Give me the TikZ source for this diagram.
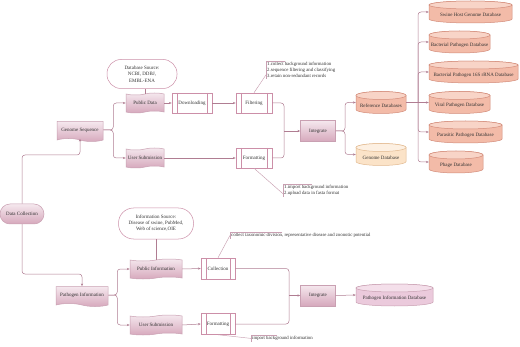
\documentclass[tikz,border=0pt]{standalone}
\usepackage{fontspec}
\setmainfont{Liberation Serif}
\usetikzlibrary{shapes.symbols,arrows.meta,calc}
\definecolor{lineC}{HTML}{B07D92}
\definecolor{borderC}{HTML}{C9A0B2}
\definecolor{procC}{HTML}{CC8FA8}
\definecolor{pinkTop}{HTML}{F5E8EE}
\definecolor{pinkBot}{HTML}{D6A8BC}
\definecolor{txtC}{HTML}{333333}
\definecolor{salBody}{HTML}{F3BBA8}
\definecolor{salTop}{HTML}{F8D4C7}
\definecolor{salEdge}{HTML}{D38C7A}
\definecolor{peBody}{HTML}{FBE3C8}
\definecolor{peTop}{HTML}{FDF0E2}
\definecolor{peEdge}{HTML}{E2B98F}
\definecolor{piBody}{HTML}{EBCADC}
\definecolor{piTop}{HTML}{F4DFEA}
\newcommand{\dbcyl}[8]{%
  \filldraw[draw=#7, fill=#5, line width=0.5pt] (#2-#4,#3+7) -- (#2-#4,#3-7) arc[start angle=180,end angle=360,x radius=#4,y radius=4] -- (#2+#4,#3+7) arc[start angle=0,end angle=180,x radius=#4,y radius=4] -- cycle;
  \filldraw[draw=#7, fill=#6, line width=0.5pt] (#2,#3+7) ellipse[x radius=#4, y radius=4];
  \node[cylnode, minimum width=2*#4] (#1) at (#2,#3) {};
  \node[txt] (#1-t) at (#2,#3-3) {#8};
}
\begin{document}
\begin{tikzpicture}[x=1pt,y=1pt,
  font=\fontsize{5}{6}\selectfont,
  txt/.style={inner sep=0, text=txtC},
  conn/.style={draw=lineC, line width=0.5pt, rounded corners=3pt},
  arr/.style={conn, -{Stealth[length=2.8pt,width=2.2pt]}},
  notel/.style={draw=borderC, line width=0.45pt},
  notetxt/.style={inner sep=1pt, text=txtC, align=left, anchor=north west, font=\fontsize{4.8}{6}\selectfont},
  docnode/.style={tape, tape bend top=none, tape bend bottom=out and in, tape bend height=3pt, draw=borderC, line width=0.5pt, top color=pinkTop, bottom color=pinkBot, inner sep=0, text=txtC},
  datanode/.style={tape, tape bend top=in and out, tape bend bottom=in and out, tape bend height=2pt, draw=borderC, line width=0.5pt, top color=pinkTop, bottom color=pinkBot, inner sep=0, text=txtC},
  procnode/.style={rectangle, draw=procC, line width=0.5pt, fill=white, inner sep=0, text=txtC,
    path picture={\draw[procC, line width=0.5pt] ([xshift=5pt]path picture bounding box.north west) -- ([xshift=5pt]path picture bounding box.south west);
                  \draw[procC, line width=0.5pt] ([xshift=-5pt]path picture bounding box.north east) -- ([xshift=-5pt]path picture bounding box.south east);}},
  stadium/.style={rectangle, draw=procC, line width=0.5pt, fill=white, align=center, inner sep=0, text=txtC},
  intnode/.style={rectangle, draw=borderC, line width=0.5pt, top color=pinkTop, bottom color=pinkBot, inner sep=0, text=txtC},
  cylnode/.style={rectangle, inner sep=0, minimum height=22pt, draw=none}
]
\useasboundingbox (0,0) rectangle (520,346);
\fill[white] (0,0) rectangle (520,346);

% ---------- nodes: upper part ----------
\node[stadium, rounded corners=10pt, top color=pinkTop, bottom color=pinkBot, draw=borderC, minimum width=44pt, minimum height=20pt] (dc) at (22,132) {Data Collection};
\node[docnode, minimum width=46pt, minimum height=20pt] (gs) at (80,216) {Genome Sequence};
\node[stadium, rounded corners=14pt, minimum width=70pt, minimum height=29pt, font=\fontsize{5}{6.3}\selectfont] (dbs) at (142,272) {Database Source:\\NCBI, DDBJ,\\EMBL-ENA};
\node[datanode, minimum width=38pt, minimum height=20pt] (pd) at (145,243) {Public Data};
\node[datanode, minimum width=38pt, minimum height=20pt] (us) at (145,188) {User Submission};
\node[procnode, minimum width=40pt, minimum height=20pt] (dl) at (192,243) {Downloading};
\node[procnode, minimum width=36pt, minimum height=20pt] (fi) at (254,243) {Filtering};
\node[procnode, minimum width=36pt, minimum height=20pt] (fo) at (254,188) {Formatting};
\node[intnode, minimum width=35pt, minimum height=21pt] (integ) at (318,215) {Integrate};

\dbcyl{rdb}{381}{243.5}{25}{salBody}{salTop}{salEdge}{Reference Databases}
\dbcyl{gdb}{381}{191.5}{25}{peBody}{peTop}{peEdge}{Genome Database}
\dbcyl{sw}{470.5}{334}{41.5}{salBody}{salTop}{salEdge}{Swine Host Genome Database}
\dbcyl{bp}{459.5}{304}{30.5}{salBody}{salTop}{salEdge}{Bacterial Pathogen Database}
\dbcyl{bs}{473.5}{274}{44.5}{salBody}{salTop}{salEdge}{Bacterial Pathogen 16S rRNA Database}
\dbcyl{vp}{459.5}{243.5}{30.5}{salBody}{salTop}{salEdge}{Viral Pathogen Database}
\dbcyl{pp}{465.5}{214}{36.5}{salBody}{salTop}{salEdge}{Parasitic Pathogen Database}
\dbcyl{ph}{456}{184}{27}{salBody}{salTop}{salEdge}{Phage Database}

% notes upper
\node[notetxt] (n1) at (266,285) {1.collect background information\\2.sequence filtering and classifying\\3.retain non-redundant records};
\draw[notel] ([xshift=19pt]n1.north west) -- (n1.north west) -- (n1.south west);
\node[notetxt] (n2) at (283,162) {1.import background information\\2.upload data in fasta format};
\draw[notel] ([xshift=29pt]n2.north west) -- (n2.north west) -- (n2.south west);

% ---------- nodes: lower part ----------
\node[docnode, minimum width=52pt, minimum height=20pt] (pi) at (82,51) {Pathogen Information};
\node[stadium, rounded corners=15pt, minimum width=75pt, minimum height=31pt] (ins) at (156,122.5) {Information Source:\\Disease of swine, PubMed,\\Web of science,OIE};
\node[datanode, minimum width=52pt, minimum height=20pt] (pinf) at (156,77) {Public Information};
\node[datanode, minimum width=52pt, minimum height=20pt] (us2) at (156,21) {User Submission};
\node[procnode, minimum width=34pt, minimum height=21pt] (col) at (218,77.5) {Collection};
\node[procnode, minimum width=34pt, minimum height=21pt] (fo2) at (218,22) {Formatting};
\node[intnode, minimum width=35pt, minimum height=21pt] (integ2) at (318,50.5) {Integrate};
\dbcyl{pidb}{394.5}{51}{38.5}{piBody}{piTop}{borderC}{Pathogen Information Database}

\node[notetxt] (n3) at (230,114) {collect taxonomic division, representative disease and zoonotic potential};
\draw[notel] ([xshift=52pt]n3.north west) -- (n3.north west) -- (n3.south west);
\node[notetxt] (n4) at (251,11) {import background information};
\draw[notel] ([xshift=26pt]n4.north west) -- (n4.north west) -- (n4.south west);

% ---------- connectors ----------
\coordinate (c1) at (80,191);
\draw[arr] (dc.north) |- (c1) -- (gs.south);
\draw[arr] (gs.east) -- ++(10,0) |- (pd.west);
\draw[arr] (gs.east) -- ++(10,0) |- (us.west);
\draw[conn] (pd.north) -- (pd.north |- dbs.south);
\draw[arr] (pd.east) -- (dl.west);
\draw[arr] (dl.east) -- (fi.west);
\draw[arr] (us.east) -- (fo.west);
\coordinate (j1) at (284,215);
\draw[conn] (fi.east) -| (j1);
\draw[conn] (fo.east) -| (j1);
\draw[arr] (j1) -- (integ.west);
\coordinate (j2) at (345,215);
\draw[arr] (integ.east) -- (j2) |- (rdb.west);
\draw[arr] (integ.east) -- (j2) |- (gdb.west);
\coordinate (j3) at (418,243.5);
\draw[conn] (rdb.east) -- (j3);
\draw[arr] (j3) |- (sw.west);
\draw[arr] (j3) |- (bp.west);
\draw[arr] (j3) |- (bs.west);
\draw[arr] (j3) -- (vp.west);
\draw[arr] (j3) |- (pp.west);
\draw[arr] (j3) |- (ph.west);
\draw[notel] (fi.north) -- ([yshift=4pt]n1.south west);
\draw[notel] (fo.south) -- ([yshift=3pt]n2.south west);

\coordinate (c2) at (82,72);
\draw[arr] (dc.south) |- (c2) -- (pi.north);
\draw[arr] (pi.east) -- ++(9,0) |- (pinf.west);
\draw[arr] (pi.east) -- ++(9,0) |- (us2.west);
\draw[conn] (ins.south) -- (pinf.north);
\draw[arr] (pinf.east) -- (col.west);
\draw[arr] (us2.east) -- (fo2.west);
\coordinate (j4) at (289,50.5);
\draw[conn] (col.east) -| (j4);
\draw[conn] (fo2.east) -| (j4);
\draw[arr] (j4) -- (integ2.west);
\draw[arr] (integ2.east) -- (pidb.west);
\draw[notel] (col.north) -- (n3.west);
\draw[notel] (fo2.south) -- (n4.west);
\end{tikzpicture}
\end{document}
